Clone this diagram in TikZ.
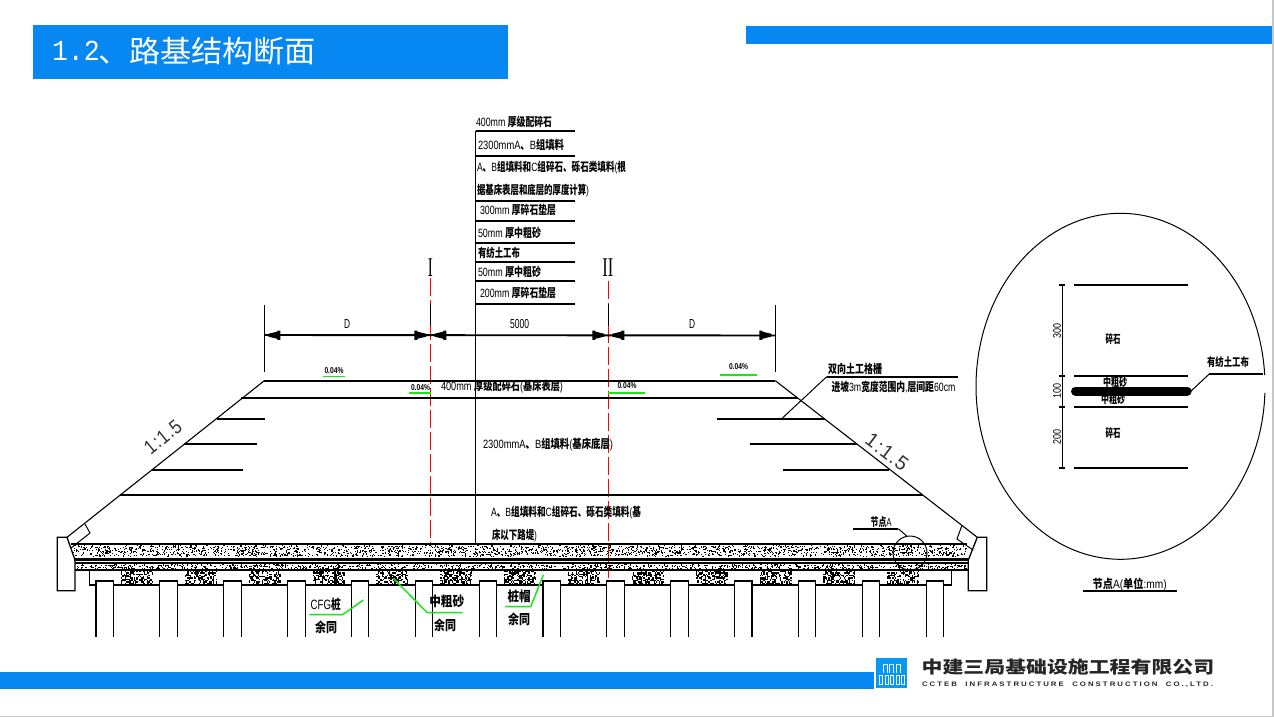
\documentclass[tikz,border=0pt]{standalone}
\usepackage{fontspec}
\usepackage{graphicx}
\newfontfamily\cjk{Noto Sans CJK SC}
\newfontfamily\lib{Liberation Sans}
\newfontfamily\serifl{Liberation Serif}
\newfontfamily\monol{Liberation Mono}
\newcommand\nb[1]{{\normalfont\lib\fontseries{m}\selectfont #1}}
\definecolor{brandblue}{HTML}{0787F2}
\definecolor{edgegray}{HTML}{C8C8C8}
\definecolor{leadgreen}{HTML}{19E619}
\newcounter{lb}
\newcommand\lbl[5][]{\stepcounter{lb}\node[anchor=west,inner sep=0pt,outer sep=0pt,#1] (lb\thelb) at (#2,#3) {\resizebox{#4pt}{\height}{#5}};}
\newcommand\stipple[5]{\foreach \i in {1,...,#5}{\pgfmathsetmacro\px{#1+rnd*(#3-#1-1.2)}\pgfmathsetmacro\py{#2+rnd*(#4-#2-1.2)}\fill (\px,\py) rectangle ++(1.15,1.15);}}
\newcommand\meshblock[1]{\foreach \cx in {0,...,24}{\foreach \cy in {0,...,9}{\pgfmathsetmacro\on{rnd}\ifdim\on pt<0.5pt\fill (#1+\cx*1.28,571+\cy*1.28) rectangle ++(1.28,1.28);\fi}}}
\newcommand\dimtip[2]{\fill (#1+#2*4,333.8) -- (#1+#2*13,331.6) -- (#1+#2*13,330.6) -- (#1+#2*16,330.6) -- (#1+#2*16,339.8) -- (#1+#2*13,339.8) -- (#1+#2*13,338.8) -- (#1+#2*4,336.6) -- cycle;}
\tikzset{
 thin line/.style={line width=1pt,black},
 bold line/.style={line width=1.9pt,black},
 green lead/.style={line width=1.5pt,leadgreen},
 red cut/.style={line width=1.1pt,red,dash pattern=on 18pt off 4pt},
 draw font/.style={font=\fontsize{12}{14}\selectfont\cjk\bfseries,text=black},
 big font/.style={font=\fontsize{13.5}{15}\selectfont\cjk\bfseries,text=black},
 small font/.style={font=\fontsize{8.5}{10}\selectfont\lib\bfseries,text=black},
 note font/.style={font=\fontsize{11.5}{13}\selectfont\cjk\bfseries,text=black},
 dim font/.style={font=\fontsize{13}{15}\selectfont\lib,text=black},
 rot font/.style={font=\fontsize{11}{13}\selectfont\lib,text=black},
 slope font/.style={font=\fontsize{20}{22}\selectfont\lib\addfontfeature{LetterSpace=6},text=black!80},
}
\begin{document}
\begin{tikzpicture}[x=1pt,y=-1pt]
\useasboundingbox (0,0) rectangle (1274,717);
\fill[white] (0,0) rectangle (1274,717);
\fill[edgegray] (1272,0) rectangle (1274,717);
\fill[edgegray] (0,715.5) rectangle (1274,717);
% header / footer
\fill[brandblue] (33.3,25) rectangle (508,78.5);
\fill[brandblue] (746,26) rectangle (1272,44);
\fill[brandblue] (0,672.3) rectangle (873.5,689);
\lbl[font=\fontsize{29}{32}\selectfont\monol,text=white]{52}{51}{48}{1.2}
\lbl[font=\fontsize{30}{32}\selectfont\cjk,text=white]{98}{51}{218}{、路基结构断面}
% logo
\fill[brandblue!85!cyan] (876,657.7) rectangle (907.3,687.7);
\foreach \xx in {883,889.5,896}{\draw[white,line width=1pt] (\xx,673) -- (\xx,664) -- (\xx+4,664) -- (\xx+4,673);}
\foreach \xx in {879.5,885,890.5,896,901.5}{\draw[white,line width=1pt] (\xx,675.5) rectangle (\xx+3.2,684);}
\lbl[font=\fontsize{17}{19}\selectfont\cjk\bfseries,text=black!85]{921.7}{667.5}{292.5}{中建三局基础设施工程有限公司}
\lbl[font=\fontsize{6.5}{8}\selectfont\lib\bfseries\addfontfeature{LetterSpace=26},text=black!85]{922}{685}{291}{CCTEB\ \ INFRASTRUCTURE\ \ CONSTRUCTION\ \ CO.,LTD.}
% layer table
\draw[thin line] (475.7,130.7) -- (475.7,543);
\foreach \yy in {130.7,155.7,200.7,221,242.7,261.7,281,303.7}{\draw[bold line] (475.7,\yy) -- (575,\yy);}
\lbl[draw font]{476}{122}{76}{\nb{400mm }厚级配碎石}
\lbl[draw font]{478}{145}{86}{\nb{2300mmA}、\nb{B}组填料}
\lbl[draw font]{477}{167.5}{149}{\nb{A}、\nb{B}组填料和\nb{C}组碎石、砾石类填料\nb{(}根}
\lbl[draw font]{477}{190.5}{112}{据基床表层和底层的厚度计算\nb{)}}
\lbl[draw font]{480}{210}{76}{\nb{300mm }厚碎石垫层}
\lbl[draw font]{478}{233}{63}{\nb{50mm }厚中粗砂}
\lbl[draw font]{478}{252.5}{42}{有纺土工布}
\lbl[draw font]{478}{272}{63}{\nb{50mm }厚中粗砂}
\lbl[draw font]{480}{293}{76}{\nb{200mm }厚碎石垫层}
\lbl[font=\fontsize{27}{29}\selectfont\serifl,anchor=center]{430.3}{268}{5}{I}
\lbl[font=\fontsize{27}{29}\selectfont\serifl,anchor=center]{607.8}{268}{11}{II}
% dimensions
\coordinate (extL) at (264.3,372);
\coordinate (extR) at (775.3,372);
\draw[red cut] (430.3,278) -- (430.3,543);
\draw[red cut] (608.3,281) -- (608.3,578);
\draw[thin line] (264.3,305) -- (extL);
\draw[thin line] (775.3,305) -- (extR);
\draw[thin line] (430.3,304) -- (430.3,326);
\draw[thin line] (608.3,304) -- (608.3,326);
\draw[bold line] (264.3,335) -- (775.3,335.5);
\dimtip{264.3}{1}
\dimtip{430.3}{-1}
\dimtip{430.3}{1}
\dimtip{608.3}{-1}
\dimtip{608.3}{1}
\dimtip{775.3}{-1}
\lbl[dim font,anchor=center]{347}{324}{6}{D}
\lbl[dim font,anchor=center]{519.5}{324}{19}{5000}
\lbl[dim font,anchor=center]{692}{324}{6}{D}
% embankment
\draw[line width=1.1pt] (67,537.3) -- (264.3,380.7);
\draw[line width=1.1pt] (977.3,537.3) -- (775.3,380.7);
\draw[bold line] (264.3,380.7) -- (775.3,380.7);
\draw[bold line] (241,397.7) -- (798,397.7);
\draw[bold line] (216.5,418.7) -- (265,418.7);
\draw[bold line] (184,444.3) -- (256.7,444.3);
\draw[bold line] (151.6,470) -- (243,470);
\draw[bold line] (716.7,418.7) -- (825,418.7);
\draw[bold line] (750,444) -- (857,444);
\draw[bold line] (783,470) -- (889,470);
\draw[bold line] (120.4,494.7) -- (922.5,494.7);
% gradients
\lbl[small font,anchor=center]{334}{371}{19}{0.04\%}
\draw[green lead] (323,376.5) -- (345,376.5);
\lbl[small font,anchor=center]{420.5}{388}{19}{0.04\%}
\draw[green lead] (409,393) -- (431,393);
\lbl[small font,anchor=center]{627}{386}{19}{0.04\%}
\draw[green lead] (608.3,393) -- (645,393);
\lbl[small font,anchor=center]{738.5}{367}{19}{0.04\%}
\draw[green lead] (720,375) -- (757,375);
% in-section labels
\lbl[draw font]{441}{387}{122}{\nb{400mm }厚级配碎石\nb{(}基床表层\nb{)}}
\lbl[draw font]{483}{445}{130}{\nb{2300mmA}、\nb{B}组填料\nb{(}基床底层\nb{)}}
\lbl[draw font]{491}{513}{150}{\nb{A}、\nb{B}组填料和\nb{C}组碎石、砾石类填料\nb{(}基}
\lbl[draw font]{492}{536}{45}{床以下路堤\nb{)}}
\lbl[slope font,anchor=center,rotate=39]{163}{437}{42}{1:1.5}
\lbl[slope font,anchor=center,rotate=-37]{887}{452}{48}{1:1.5}
% geogrid note
\draw[thin line] (781.7,418.7) -- (826.7,376.7);
\draw[bold line] (826.7,376.7) -- (958,376.7);
\lbl[draw font]{828}{368.5}{54}{双向土工格栅}
\lbl[draw font]{831.5}{387}{124}{进坡\nb{3m}宽度范围内\nb{,}层间距\nb{60cm}}
% retaining blocks
\draw[line width=1.3pt] (67,537.3) -- (57.3,537.3) -- (57.3,590.7) -- (75,590.7) -- (75,560) -- cycle;
\draw[thin line] (85,524) -- (90,533) -- (71,548);
\draw[line width=1.3pt] (977.3,537.3) -- (986.7,537.3) -- (986.7,590.7) -- (968.3,590.7) -- (968.3,560) -- cycle;
\draw[thin line] (961.7,526) -- (957,539) -- (973,550);
% granular layers
\pgfmathsetseed{4217}
\stipple{73}{545}{967}{557}{2100}
\stipple{76}{564}{967}{569.5}{1000}
\draw[bold line] (71,544) -- (967,544);
\fill (74,557.5) rectangle (968,561);
\draw[white,line width=0.6pt,dash pattern=on 5pt off 2pt] (80,561.8) -- (968,561.8);
\fill (75,562.3) rectangle (968,563.6);
\draw[bold line] (75,570) -- (968,570);
% cushion and piles
\draw[thin line] (89,570) -- (89,584.7);
\draw[thin line] (951.7,570) -- (951.7,584.7);
\draw[bold line] (89,584.7) -- (951.7,584.7);
\foreach \i in {0,...,12}{\pgfmathsetmacro\bx{121+63.85*\i}\meshblock{\bx}}
\foreach \i in {0,...,13}{\pgfmathsetmacro\qx{96+63.85*\i}
 \fill[white] (\qx,581) rectangle (\qx+17.5,637);
 \draw[line width=1.1pt] (\qx,637) -- (\qx,581) -- (\qx+17.5,581) -- (\qx+17.5,637);
 \draw[bold line] (\qx-.4,581) -- (\qx+17.9,581);}
% pile labels
\draw[green lead] (309.3,614.7) -- (342.7,614.7) -- (363.3,600);
\lbl[big font]{310.7}{604}{30}{\nb{CFG}桩}
\lbl[big font]{315}{627}{22}{余同}
\draw[green lead] (393.3,578.3) -- (427.3,612.7) -- (462.7,612.7);
\lbl[big font]{429.3}{601}{35}{中粗砂}
\lbl[big font]{434}{625}{22}{余同}
\draw[green lead] (505,606.7) -- (530.7,606.7) -- (543.3,575);
\lbl[big font]{507.7}{596}{23}{桩帽}
\lbl[big font]{508}{619}{22}{余同}
% node A marker
\draw[thin line] (910,553) circle[radius=17pt];
\draw[bold line] (853.3,528.7) -- (898.3,528.7);
\draw[thin line] (898.3,528.7) -- (906.7,536);
\lbl[note font]{870.7}{521.7}{21}{节点\nb{A}}
% detail circle
\draw[thin line] plot[domain=3.7:357.8,samples=140,smooth] ({1120.5+144.5*cos(\x)},{386.3-173*sin(\x)});
\foreach \yy in {285,375.7,406.7,467.7}{
 \draw[bold line] (1074.3,\yy) -- (1187.7,\yy);
 \draw[bold line] (1059.3,\yy) -- (1065,\yy);}
\draw[thin line] (1062.7,285) -- (1062.7,467.7);
\lbl[note font,anchor=center]{1113}{339}{15}{碎石}
\lbl[note font,anchor=center]{1113}{433}{15}{碎石}
\lbl[note font,anchor=center]{1115}{382.5}{24}{中粗砂}
\lbl[note font,anchor=center]{1113}{399.5}{24}{中粗砂}
\draw[black,line width=9pt,line cap=round] (1075.5,391) -- (1187.2,391);
\draw[thin line] (1191,391) -- (1209.3,374);
\draw[bold line] (1209.3,374) -- (1263.3,374);
\lbl[note font]{1207}{362}{42}{有纺土工布}
\lbl[rot font,anchor=center,rotate=90]{1057}{331}{15}{300}
\lbl[rot font,anchor=center,rotate=90]{1057}{391}{15}{100}
\lbl[rot font,anchor=center,rotate=90]{1057}{437}{15}{200}
\lbl[draw font]{1092.7}{584}{74}{节点\nb{A(}单位\nb{:mm)}}
\draw[bold line] (1082.7,591.3) -- (1177.3,591.3);
\end{tikzpicture}
\end{document}
